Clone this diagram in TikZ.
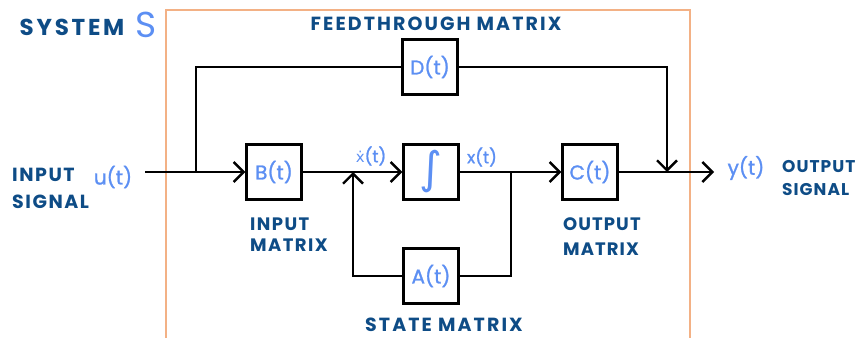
\documentclass[tikz,border=0pt]{standalone}
\usepackage{fontspec}
\setmainfont{Poppins}
\newfontfamily\symfont{DejaVu Sans}
\usepackage{tikz}
\usetikzlibrary{arrows.meta}
\usetikzlibrary{positioning}

\definecolor{labelblue}{HTML}{0E4C86}
\definecolor{sigblue}{HTML}{5C8FF3}
\definecolor{frameorange}{HTML}{F3B185}

\begin{document}
\begin{tikzpicture}[x=1pt,y=-1pt]

\tikzset{>={Straight Barb[length=10pt,width=20pt,line width=2.4pt]}}
\def\sz{55pt}
\tikzstyle{block} = [
	draw, line width=2.4pt, fill=white, rectangle, text=sigblue,
	font=\fontsize{20}{20}\selectfont\addfontfeature{FakeBold=1.2},
	minimum height=\sz, minimum width=\sz, inner sep=0pt ];
\tikzstyle{wire} = [line width=2.4pt];
\tikzstyle{caption} = [text=labelblue, align=left, inner sep=0pt,
	font=\bfseries\fontsize{19}{24}\selectfont\addfontfeature{LetterSpace=11}];
\tikzstyle{smallcaption} = [caption,
	font=\bfseries\fontsize{17}{23}\selectfont\addfontfeature{LetterSpace=6}];
\tikzstyle{signal} = [text=sigblue, inner sep=0pt,
	font=\fontsize{20}{20}\selectfont\addfontfeature{FakeBold=1.2}];

\useasboundingbox (0,0) rectangle (861,338);

% system boundary, open at the bottom
\draw[frameorange, line width=1.6pt] (166,338) -- (166,10) -- (690,10) -- (690,338);

\node[caption, font=\bfseries\fontsize{23}{23}\selectfont\addfontfeature{LetterSpace=12}] (sysname) at (72,27) {SYSTEM};
\node[signal, font=\fontsize{36}{36}\selectfont] (syssym) at (146,25) {S};

% blocks
\node[block] (D) at (430,67) {D(t)};
\node[block] (B) at (274,172) {B(t)};
\node[block, font=\symfont\fontsize{44}{44}\selectfont] (I) at (431,172) {∫};
\node[block] (C) at (590,172) {C(t)};
\node[block] (A) at (431,276) {A(t)};

% branch points
\coordinate (in) at (145,172);
\coordinate (split) at (196,172);
\coordinate (sum) at (353,172);
\coordinate (tap) at (511,172);
\coordinate (join) at (667,172);
\coordinate (out) at (714,172);

\draw[wire,->] (in) -- (B.west);
\draw[wire] (split) |- (D.west);
\draw[wire,->] (D.east) -| (join);
\draw[wire,->] (B.east) -- (I.west);
\draw[wire,->] (I.east) -- (C.west);
\draw[wire,->] (C.east) -- (out);
\draw[wire] (tap) |- (A.east);
\draw[wire,->] (A.west) -| (sum);

% signals
\node[signal] (u) at (113,177) {u(t)};
\node[signal] (y) at (746,168) {y(t)};
\node[signal, font=\fontsize{17}{17}\selectfont\addfontfeature{FakeBold=1.2}] (xdot) at (371,156) {{\symfont\fontsize{15}{15}\selectfont ẋ}(t)};
\node[signal, font=\fontsize{17}{17}\selectfont\addfontfeature{FakeBold=1.2}] (x) at (482,157) {x(t)};

% captions
\node[caption] (ftlbl) at (436,24) {FEEDTHROUGH MATRIX};
\node[caption, anchor=north west, font=\bfseries\fontsize{19}{27}\selectfont\addfontfeature{LetterSpace=8}] (inlbl) at (12,168) {INPUT\\SIGNAL};
\node[smallcaption, anchor=north west, font=\bfseries\fontsize{18}{21}\selectfont\addfontfeature{LetterSpace=8}] (bmlbl) at (250,218) {INPUT\\MATRIX};
\node[smallcaption, anchor=north west, font=\bfseries\fontsize{18}{25}\selectfont\addfontfeature{LetterSpace=6}] (cmlbl) at (563,217) {OUTPUT\\MATRIX};
\node[smallcaption, anchor=north west] (outlbl) at (782,160) {OUTPUT\\SIGNAL};
\node[caption] (amlbl) at (444,325) {STATE MATRIX};

\end{tikzpicture}
\end{document}
